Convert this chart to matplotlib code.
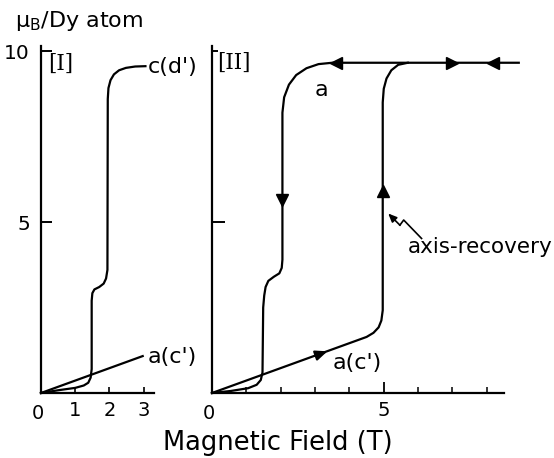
import matplotlib
matplotlib.use('Agg')
import matplotlib.pyplot as plt

plt.rcParams['font.family'] = ['DejaVu Sans']

# ---------------- data ----------------
# Panel I : c(d') magnetisation curve
p1_cd_x = [0.0, 0.5, 1.0, 1.25, 1.38, 1.45, 1.48, 1.48, 1.50, 1.56, 1.70, 1.83, 1.90, 1.94,
           1.95, 1.97, 2.03, 2.13, 2.28, 2.48, 2.75, 3.05]
p1_cd_y = [0.0, 0.08, 0.15, 0.22, 0.30, 0.45, 0.70, 2.70, 2.92, 3.03, 3.10, 3.20, 3.35, 3.60,
           8.60, 8.92, 9.15, 9.32, 9.44, 9.51, 9.55, 9.56]
# Panel I : a(c') straight line
p1_ac_x = [0.0, 2.97]
p1_ac_y = [0.0, 1.08]

# Panel II : decreasing-field branch (from high field down to zero)
p2_down_x = [8.93, 5.60, 3.50, 3.10, 2.75, 2.45, 2.24, 2.10, 2.05, 2.05, 2.03, 1.96, 1.80,
             1.64, 1.56, 1.52, 1.49, 1.47, 1.42, 1.30, 1.05, 0.55, 0.0]
p2_down_y = [9.66, 9.66, 9.66, 9.62, 9.50, 9.30, 9.02, 8.65, 8.20, 3.90, 3.66, 3.50, 3.40,
             3.28, 3.10, 2.85, 2.50, 0.60, 0.38, 0.24, 0.14, 0.06, 0.0]
# Panel II : increasing-field branch a(c') with axis recovery
p2_up_x = [0.0, 4.50, 4.70, 4.85, 4.93, 4.97, 4.97, 5.00, 5.08, 5.22, 5.42, 5.70]
p2_up_y = [0.0, 1.64, 1.76, 1.92, 2.12, 2.42, 8.50, 8.90, 9.20, 9.44, 9.60, 9.66]

# arrow heads on the curves of panel II
arrow_x = [3.60, 7.00, 8.17, 2.05, 4.97]
arrow_y = [9.66, 9.66, 9.66, 5.65, 5.90]
arrow_m = ['<', '>', '<', 'v', '^']
slope_arrow_tail = (3.00, 1.09)
slope_arrow_head = (3.36, 1.22)

# pointer for the "axis-recovery" note
sq_x = [6.10, 5.58, 5.47, 5.13]
sq_y = [4.52, 5.06, 4.91, 5.25]

# tick values / labels
p1_xticks = [1, 2, 3]
p1_xlabels = ['1', '2', '3']
p1_yticks = [5, 10]
p1_ylabels = ['5', '10']
p2_xminor = [1, 2, 3, 4, 6, 7, 8]
p2_xmajor = [5]
p2_xlabels = ['5']

# ---------------- figure ----------------
W, H = 554, 458
fig = plt.figure(figsize=(W / 100, H / 100), dpi=100)
ax1 = fig.add_axes([41 / W, 65 / H, 113 / W, 347 / H])
ax2 = fig.add_axes([212 / W, 65 / H, 292 / W, 347 / H])

LW = 1.6
FS = 14
for ax in (ax1, ax2):
    ax.set_ylim(0, 10.15)
    for s in ('top', 'right'):
        ax.spines[s].set_visible(False)
    for s in ('left', 'bottom'):
        ax.spines[s].set_linewidth(LW)
    ax.patch.set_alpha(0)

ax1.set_xlim(0, 3.3)
ax2.set_xlim(0, 8.5)

# Panel I
ax1.plot(p1_cd_x, p1_cd_y, color='black', lw=LW, clip_on=False)
ax1.plot(p1_ac_x, p1_ac_y, color='black', lw=LW, clip_on=False)
ax1.text(3.12, 9.55, "c(d')", fontsize=16, va='center', ha='left')
ax1.text(3.12, 1.05, "a(c')", fontsize=16, va='center', ha='left')
ax1.text(0.2, 9.62, "[I]", fontsize=15.5, va='center', ha='left', family='DejaVu Serif')

ax1.set_xticks(p1_xticks)
ax1.set_xticklabels(p1_xlabels)
ax1.set_yticks(p1_yticks)
ax1.set_yticklabels(p1_ylabels)
ax1.tick_params(axis='x', direction='in', length=4, width=1.2, labelsize=FS, pad=6)
ax1.tick_params(axis='y', direction='in', length=8, width=1.4, labelsize=FS + 0.5, pad=8)
ax1.text(-0.1, -0.33, '0', fontsize=FS, ha='center', va='top')

# Panel II
ax2.plot(p2_down_x, p2_down_y, color='black', lw=LW, clip_on=False)
ax2.plot(p2_up_x, p2_up_y, color='black', lw=LW, clip_on=False)
for x, y, m in zip(arrow_x, arrow_y, arrow_m):
    ax2.plot([x], [y], marker=m, color='black', markersize=8, clip_on=False, ls='none')
ax2.annotate('', xy=slope_arrow_head, xytext=slope_arrow_tail,
             arrowprops=dict(arrowstyle='-|>,head_length=0.7,head_width=0.3',
                             color='black', lw=LW, shrinkA=0, shrinkB=0))
ax2.text(3.0, 8.85, "a", fontsize=16, va='center', ha='left')
ax2.text(3.5, 0.88, "a(c')", fontsize=16, va='center', ha='left')
ax2.text(0.14, 9.65, "[II]", fontsize=15.5, va='center', ha='left', family='DejaVu Serif')
ax2.text(5.70, 4.27, "axis-recovery", fontsize=15.5, va='center', ha='left')
ax2.plot(sq_x[:-1], sq_y[:-1], color='black', lw=1.2)
ax2.annotate('', xy=(sq_x[-1], sq_y[-1]), xytext=(sq_x[-2], sq_y[-2]),
             arrowprops=dict(arrowstyle='-|>,head_length=0.5,head_width=0.22',
                             color='black', lw=1.2, shrinkA=0, shrinkB=0))

ax2.set_xticks(p2_xmajor)
ax2.set_xticklabels(p2_xlabels)
ax2.set_xticks(p2_xminor, minor=True)
ax2.set_yticks([5, 10])
ax2.set_yticklabels(['', ''])
ax2.tick_params(axis='x', which='major', direction='in', length=8, width=1.3, labelsize=FS, pad=6)
ax2.tick_params(axis='x', which='minor', direction='in', length=4, width=1.1)
ax2.tick_params(axis='y', direction='in', length=9, width=1.4)
ax2.yaxis.get_major_ticks()[1].tick1line.set_markersize(4)
ax2.text(-0.08, -0.33, '0', fontsize=FS, ha='center', va='top')

# axis titles
fig.text(15 / W, 1 - 21 / H, 'μ$_{\\mathrm{B}}$/Dy atom', fontsize=16, ha='left', va='center')
fig.text(278 / W, 1 - 443 / H, 'Magnetic Field (T)', fontsize=18.5, ha='center', va='center')

fig.savefig('out.png', dpi=100)
